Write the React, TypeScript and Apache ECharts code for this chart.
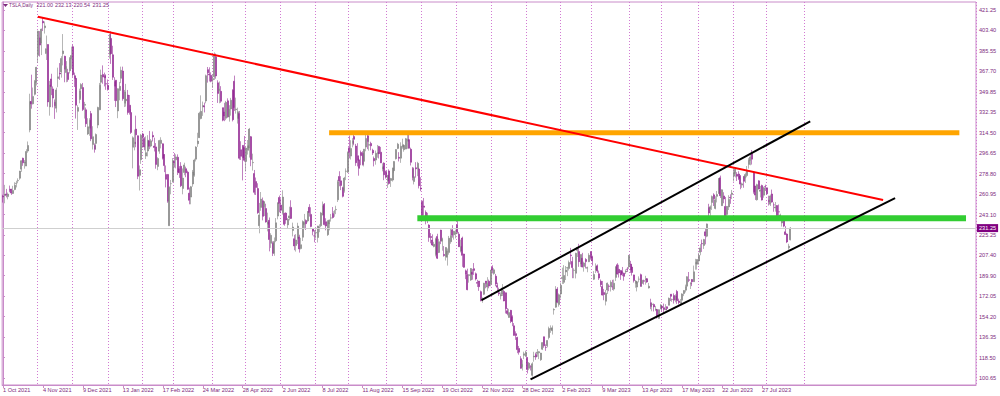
import React, { useEffect, useRef } from 'react';
import * as echarts from 'echarts';

// Daily candles, each row: [open, close, low, high]
const oct21 = [[259.0,258.4,253.5,260.3],[259.5,260.5,252.9,268.9],[261.0,260.2,258.0,265.4],[258.7,260.9,256.3,262.2],[264.6,264.5,262.5,268.3],[265.3,261.8,260.2,265.4],[261.4,264.0,260.9,268.1],[264.9,268.6,264.2,271.2],[270.0,270.4,266.7,272.5],[272.4,272.8,270.3,274.6],[274.7,281.0,273.3,281.1],[282.6,290.0,280.3,290.3],[292.1,288.1,285.5,292.6],[288.0,288.6,283.0,290.5],[285.3,298.0,285.3,300.0],[298.4,303.2,296.9,306.7],[316.8,341.6,314.7,348.3],[341.6,339.5,335.3,364.9],[339.5,346.0,339.0,353.7],[347.8,359.0,346.8,360.3],[358.3,371.3,355.5,371.7]];
const nov21 = [[381.7,402.9,375.3,403.2],[397.0,390.7,380.7,402.9],[392.4,404.6,382.0,405.1],[411.5,410.0,402.9,414.5],[405.8,407.4,400.7,411.3],[383.3,387.6,377.7,399.0],[391.2,341.2,337.0,391.4],[336.8,356.0,329.2,359.5],[361.2,354.5,347.1,365.7],[352.5,344.5,336.4,354.7],[340.9,337.8,326.4,343.3],[335.7,351.6,332.0,353.5],[361.6,363.0,354.0,371.0],[366.3,365.5,360.4,375.0],[367.3,379.0,362.3,381.0],[383.1,385.6,373.0,400.3],[381.0,369.7,358.3,381.4],[366.7,372.0,358.3,376.7],[366.7,360.6,358.7,370.0],[368.3,379.0,366.0,380.3],[378.7,381.6,370.0,389.3]];
const dec21 = [[389.3,365.0,363.0,390.9],[364.0,361.5,354.2,366.7],[361.7,338.3,326.7,361.7],[333.0,336.3,316.8,338.3],[343.3,350.6,340.0,352.7],[352.7,356.3,344.7,357.5],[353.7,334.6,333.3,357.7],[338.3,339.0,326.7,341.2],[334.3,322.1,319.3,336.3],[313.3,319.5,312.3,327.0],[318.3,325.3,311.7,327.0],[331.0,309.0,307.0,333.3],[304.0,310.9,299.7,320.0],[303.3,300.0,297.0,305.0],[305.0,312.8,299.7,313.7],[321.0,336.3,318.3,337.0],[334.3,355.7,334.0,357.7],[358.3,364.6,351.7,369.3],[365.0,362.8,357.0,373.0],[364.0,362.1,354.7,366.7],[357.0,356.8,351.7,365.2],[355.7,352.3,351.0,360.7]];
const jan22 = [[382.6,399.9,378.9,400.4],[396.5,383.2,374.3,402.7],[382.2,362.7,360.3,390.1],[359.0,354.9,342.1,362.7],[360.1,342.3,336.7,360.3],[333.3,352.7,327.0,353.0],[351.2,354.8,342.6,358.6],[361.7,368.7,357.5,371.9],[368.1,343.9,342.2,371.9],[340.0,349.9,336.7,351.6],[342.2,343.5,337.1,356.9],[347.2,331.9,330.0,351.6],[338.3,332.1,330.1,347.2],[331.9,314.6,313.3,334.8],[301.7,310.0,283.3,311.2],[304.7,306.1,299.0,317.1],[317.5,312.5,301.7,329.2],[311.7,276.4,273.9,311.9],[277.2,282.1,264.0,285.8],[290.9,312.2,287.2,313.3]];
const feb22 = [[313.3,310.4,301.3,314.3],[309.4,301.9,299.0,310.5],[294.0,297.0,291.4,311.2],[298.4,307.8,293.7,312.2],[307.3,302.5,300.0,315.9],[302.7,307.3,301.7,308.8],[312.0,310.7,306.7,315.4],[302.7,301.5,298.0,310.0],[302.0,286.7,283.0,305.3],[285.0,291.9,281.7,293.0],[298.3,307.5,296.0,308.1],[305.0,307.8,300.7,310.4],[304.7,292.1,291.0,305.0],[295.3,285.7,280.0,295.7],[278.0,273.8,266.7,285.8],[278.0,254.7,253.3,278.3],[233.3,266.9,233.3,267.5],[270.0,270.0,260.7,273.2],[271.7,290.1,271.0,292.3]];
const mar22 = [[289.3,288.1,284.0,296.6],[290.7,293.3,283.3,295.5],[293.0,279.8,277.5,295.5],[283.0,279.4,275.0,285.2],[285.2,268.2,267.0,288.7],[265.7,274.8,260.7,283.2],[279.7,286.3,277.3,288.2],[283.0,279.4,275.6,284.8],[280.0,265.1,264.7,281.3],[261.7,255.5,252.0,266.6],[258.3,267.3,252.0,268.0],[269.7,280.1,267.3,281.9],[277.3,290.5,276.0,291.7],[291.3,301.8,289.3,302.6],[304.7,307.1,302.0,314.3],[310.0,331.3,309.8,332.6],[326.7,333.0,326.0,346.9],[336.9,338.0,329.0,341.5],[337.7,336.9,332.0,340.6],[342.0,364.0,340.0,365.0],[369.3,366.5,358.0,371.6],[365.3,364.7,359.0,371.3],[364.3,359.2,358.3,367.0]];
const apr22 = [[360.4,361.5,353.3,364.9],[363.1,381.8,360.3,384.3],[380.5,363.8,361.4,383.3],[357.8,348.6,340.3,360.0],[350.8,352.4,340.0,359.0],[350.4,341.8,340.4,354.9],[336.2,325.3,324.3,336.2],[332.5,329.0,324.4,340.4],[327.0,340.8,325.3,342.1],[342.1,328.3,327.4,344.3],[328.0,334.8,324.0,338.3],[335.0,342.7,329.2,344.7],[351.3,325.7,324.2,352.2],[359.2,336.3,333.3,364.1],[334.3,335.0,331.0,344.9],[326.7,332.7,322.3,336.2],[331.0,292.1,290.8,333.3],[299.5,293.8,290.6,306.9],[303.3,292.5,272.8,303.5],[301.4,290.3,289.1,311.5]];
const may22 = [[289.3,301.0,280.6,302.1],[299.0,303.1,295.3,308.0],[301.1,317.5,292.7,318.5],[310.9,291.1,285.2,311.5],[288.2,288.5,281.4,296.1],[278.8,262.4,260.4,281.9],[271.8,266.7,260.1,275.3],[265.7,244.7,243.7,270.3],[233.3,242.7,226.7,253.2],[249.3,256.5,246.3,262.7],[255.0,241.5,238.0,257.9],[249.8,253.9,241.8,254.8],[248.3,236.6,236.0,252.5],[234.6,236.5,228.4,244.7],[238.0,221.3,211.0,240.5],[218.0,225.0,214.0,226.8],[218.1,209.4,206.9,219.7],[209.3,219.6,207.1,223.1],[220.3,235.9,219.0,240.0],[241.7,253.2,238.9,253.8],[257.9,252.8,245.0,259.6]];
const jun22 = [[251.3,246.8,244.3,257.3],[244.7,258.3,243.0,264.2],[244.2,234.5,233.3,244.5],[244.3,238.3,235.0,245.0],[234.0,238.9,231.0,239.9],[240.1,241.9,238.0,249.9],[249.3,239.7,239.3,255.5],[229.1,232.2,224.0,236.0],[222.0,215.7,212.0,225.4],[216.2,220.9,210.8,226.0],[222.3,233.0,217.3,235.9],[223.5,213.1,209.9,225.5],[213.4,216.8,212.7,222.8],[223.3,237.0,220.0,238.0],[234.3,236.1,230.4,243.6],[237.9,235.1,229.6,238.9],[237.5,245.7,236.3,246.1],[249.4,244.9,241.3,252.1],[243.2,232.7,232.0,249.4],[230.5,228.5,225.0,231.2],[224.5,224.5,218.9,229.5]];
const jul22 = [[227.0,227.3,222.1,230.2],[223.0,233.1,218.7,233.2],[230.8,231.7,227.7,234.6],[233.3,244.5,232.0,245.4],[242.7,250.8,242.3,254.4],[252.1,234.3,233.6,253.1],[236.8,233.1,229.3,239.8],[225.5,237.0,224.4,238.3],[234.9,238.3,229.3,238.7],[240.0,240.1,236.9,243.6],[244.0,240.5,239.6,249.6],[245.0,245.5,241.1,247.1],[247.2,247.5,243.4,250.7],[255.9,271.7,254.0,273.3],[276.2,272.2,267.7,280.8],[272.4,268.4,264.3,276.5],[266.5,258.9,258.0,267.3],[263.8,274.8,262.1,275.9],[280.7,280.9,273.0,283.3],[280.0,297.1,279.3,298.0]];
const aug22 = [[301.3,297.3,292.0,311.9],[294.0,300.6,291.0,307.8],[305.0,307.4,301.6,309.6],[311.0,308.6,303.4,313.6],[302.7,288.2,285.5,304.6],[294.3,290.4,285.0,305.2],[290.7,283.3,276.9,292.4],[297.1,294.4,286.0,298.8],[296.5,286.6,285.8,298.2],[289.4,300.0,285.0,300.2],[301.8,309.3,298.2,313.1],[311.7,306.6,300.0,314.7],[303.4,304.0,298.7,309.7],[305.0,302.9,299.0,306.5],[299.0,296.7,295.0,300.4],[291.9,289.9,285.0,293.6],[290.5,296.5,286.5,298.8],[296.1,297.1,292.6,303.7],[302.4,296.1,291.9,302.9],[297.4,288.1,287.9,302.0],[282.8,284.8,280.7,287.7],[287.9,277.7,273.0,288.5],[280.6,275.6,274.4,281.3]];
const sep22 = [[272.6,277.2,266.2,277.6],[281.1,270.2,269.1,282.4],[272.7,274.4,267.1,275.0],[273.1,283.7,271.8,283.8],[281.3,289.3,279.2,289.5],[291.7,299.7,291.0,299.9],[300.7,304.4,300.0,305.5],[292.9,292.1,289.3,297.4],[292.2,302.6,288.1,306.0],[301.8,303.8,300.4,309.1],[299.6,303.4,297.8,304.0],[300.1,309.1,300.0,309.8],[306.9,308.7,300.4,313.3],[308.3,300.8,300.6,313.8],[299.9,288.6,285.8,301.3],[283.1,275.3,272.8,284.5],[271.8,276.0,269.3,284.1],[283.8,282.9,275.2,288.7],[283.1,287.8,276.5,289.0],[282.8,268.2,265.8,283.7],[266.2,265.3,263.4,275.6]];
const oct22 = [[254.5,242.4,241.0,255.2],[250.5,249.4,242.1,257.5],[245.0,240.8,234.5,246.7],[239.4,238.1,235.6,244.6],[233.9,223.1,219.3,234.6],[223.9,223.0,218.0,226.9],[220.9,216.5,215.7,225.8],[215.3,217.2,214.5,219.3],[208.3,221.7,206.6,222.9],[224.0,205.0,204.3,226.3],[210.0,219.4,209.5,221.9],[229.5,220.2,217.3,229.8],[219.8,222.0,211.6,222.9],[208.3,207.3,206.4,215.6],[206.4,214.4,203.0,214.7],[205.8,211.3,198.6,213.5],[210.1,222.4,208.1,224.4],[219.4,224.6,217.6,230.6],[229.8,225.1,222.9,233.8],[225.4,228.5,221.2,228.9],[226.2,227.5,222.3,229.9]];
const nov22 = [[234.1,227.8,226.4,237.4],[226.0,215.0,214.8,227.9],[211.4,215.3,210.1,221.2],[222.6,207.5,197.5,223.8],[208.7,197.1,196.7,208.9],[194.0,191.3,186.8,195.2],[190.8,177.6,177.1,195.9],[189.9,190.7,183.7,191.0],[186.0,196.0,185.2,196.5],[192.8,191.0,186.3,195.7],[195.9,194.4,190.5,200.8],[191.5,186.9,185.6,192.6],[183.9,183.2,180.0,186.2],[185.1,180.2,176.6,185.2],[175.9,167.9,167.5,176.8],[168.6,169.9,166.2,170.9],[173.6,183.2,172.9,183.6],[185.1,182.9,178.8,185.2],[179.9,182.9,176.3,188.5],[185.0,180.8,178.8,186.4],[182.4,194.7,180.6,194.8]];
const dec22 = [[197.1,194.7,191.8,198.9],[191.8,194.9,190.6,196.3],[189.4,182.5,180.6,191.3],[181.2,179.8,175.3,183.7],[175.0,174.0,172.2,179.4],[172.2,173.4,169.1,175.2],[173.8,179.1,172.1,182.5],[176.1,167.8,167.5,177.4],[174.9,161.0,156.9,175.1],[159.3,156.8,155.3,161.6],[153.4,157.7,153.3,160.9],[159.6,150.2,148.5,160.0],[154.0,149.9,145.8,155.3],[146.1,137.8,137.7,148.5],[139.3,137.6,133.9,141.3],[136.0,125.4,122.3,136.6],[126.4,123.2,121.0,128.6],[117.5,109.1,108.8,119.7],[110.4,112.7,107.2,116.3],[120.4,121.8,117.1,123.6],[119.9,123.2,119.0,124.5]];
const jan23 = [[118.5,108.1,104.6,118.8],[109.1,113.6,107.5,114.6],[110.5,110.3,107.2,111.8],[103.0,113.1,101.8,114.4],[119.0,119.8,114.9,123.5],[121.1,118.9,116.5,122.8],[122.1,123.2,119.2,125.9],[122.6,123.6,117.1,124.1],[116.6,122.4,115.6,122.6],[125.7,131.5,125.0,131.7],[136.6,128.8,127.0,136.7],[127.3,127.2,124.3,130.0],[128.7,133.4,127.4,133.5],[135.9,143.8,134.3,145.4],[143.0,143.9,140.0,146.5],[141.9,144.4,138.5,146.4],[160.0,160.3,155.9,161.4],[162.4,177.9,161.9,180.7],[178.1,166.7,165.8,179.8],[164.6,173.2,162.8,174.3]];
const feb23 = [[173.9,181.4,169.9,183.8],[187.3,188.3,182.6,196.8],[184.0,190.0,182.6,199.0],[193.0,194.8,186.0,198.2],[196.4,196.8,189.4,197.5],[196.1,201.3,194.3,203.0],[207.8,207.3,199.6,214.0],[202.2,196.9,187.6,206.2],[194.4,194.6,187.6,196.3],[191.9,209.3,187.4,209.8],[211.8,214.2,206.1,214.7],[210.8,202.0,197.5,217.6],[200.0,208.3,197.5,208.4],[205.0,197.4,197.0,209.7],[197.9,200.9,193.3,202.0],[203.9,202.1,196.1,205.1],[196.3,196.9,192.8,197.7],[202.0,207.6,201.6,209.4],[210.6,205.7,203.8,211.2]];
const mar23 = [[206.2,202.8,198.6,207.2],[186.7,190.9,186.0,193.8],[194.8,197.8,192.1,200.5],[198.5,193.8,192.3,199.6],[191.4,187.7,186.1,194.2],[185.0,182.0,180.0,186.5],[180.3,172.9,172.5,185.2],[175.1,173.4,168.4,178.3],[167.5,174.5,163.9,177.4],[177.3,183.3,173.8,183.8],[180.8,180.5,176.3,182.3],[180.4,184.1,176.0,185.8],[180.1,180.1,177.3,186.2],[178.1,183.3,176.7,186.4],[188.3,197.6,185.2,198.0],[199.3,191.2,190.8,200.7],[195.3,192.2,188.2,199.3],[194.4,190.4,186.2,194.5],[193.4,191.8,189.4,197.4],[192.0,189.2,185.4,192.4],[193.1,193.9,191.3,195.3],[195.6,195.3,193.0,197.3],[197.5,207.5,195.6,207.8]];
const apr23 = [[199.9,194.8,192.2,202.7],[197.3,192.6,189.9,198.7],[190.5,185.5,183.8,190.7],[183.1,185.1,179.3,186.0],[179.9,184.5,176.1,185.1],[186.7,186.8,184.0,189.2],[190.7,180.5,180.2,191.6],[183.0,185.9,180.3,186.5],[185.4,185.0,182.0,186.3],[186.3,187.0,182.0,189.7],[187.2,184.3,183.6,187.7],[179.1,180.6,178.6,183.5],[166.2,163.0,160.6,169.7],[164.8,165.1,158.8,166.0],[164.7,162.6,158.6,165.6],[159.8,160.7,158.9,163.5],[160.3,153.8,152.4,160.7],[152.6,160.2,152.4,160.5],[160.9,164.3,160.6,165.0]];
const may23 = [[163.2,161.8,158.8,163.3],[161.9,160.3,157.3,165.5],[160.0,160.6,159.8,165.0],[162.7,161.2,159.7,163.0],[164.0,170.1,163.9,170.8],[173.7,171.8,167.7,173.8],[169.0,169.2,167.0,169.8],[172.6,168.5,165.5,174.4],[168.7,172.1,166.6,173.6],[176.1,168.0,165.2,177.4],[167.7,166.4,164.7,169.8],[165.7,166.5,164.4,169.5],[168.4,173.9,164.2,174.5],[174.2,176.9,172.0,177.1],[177.2,180.1,175.2,182.0],[180.7,188.9,179.8,189.3],[186.2,185.8,184.2,193.0],[182.6,182.9,178.2,184.2],[186.5,184.5,180.7,186.8],[184.6,193.2,184.5,198.6],[200.1,201.2,195.0,204.5],[199.8,203.9,195.1,204.0]];
const jun23 = [[202.6,207.5,199.4,209.8],[210.2,214.0,207.6,217.3],[217.8,217.6,210.5,221.3],[216.1,221.3,213.1,221.9],[228.0,224.6,217.1,230.8],[224.2,234.9,223.3,235.2],[249.1,244.4,239.6,252.4],[247.9,249.8,242.1,251.0],[253.5,258.7,247.1,259.7],[260.2,256.8,250.5,261.6],[248.4,255.9,247.6,259.0],[258.9,260.5,253.6,263.6],[261.5,274.5,261.1,274.8],[275.1,259.5,257.5,277.0],[250.8,264.6,250.7,265.0],[259.3,256.6,252.9,262.5],[250.1,241.1,240.7,258.4],[243.2,250.2,240.0,250.4],[249.7,256.2,247.0,259.9],[258.0,257.5,252.4,260.7],[260.6,261.8,256.6,264.5]];
const jul23 = [[276.5,279.8,271.8,284.3],[278.8,282.5,275.4,284.0],[278.1,276.5,272.3,280.0],[278.4,274.4,273.2,280.8],[276.5,269.6,265.1,277.5],[268.7,269.8,266.3,270.9],[276.3,272.0,266.4,276.5],[274.6,277.9,270.6,279.5],[277.0,281.4,275.5,285.3],[286.6,290.4,283.1,292.2],[290.2,293.3,286.0,295.3],[296.0,291.3,286.6,299.3],[279.6,262.9,261.2,280.9],[268.0,260.0,255.8,268.0],[255.9,269.1,255.2,269.9],[272.4,265.3,265.0,272.9],[263.3,264.4,258.0,268.0],[268.3,255.7,255.3,269.1],[259.9,266.4,257.7,267.3],[267.5,267.4,263.6,269.1]];
const aug23 = [[266.3,261.1,260.5,266.5],[255.6,254.1,250.9,259.5],[252.0,259.3,250.5,260.5],[261.0,253.9,253.4,264.8],[251.5,251.5,245.5,253.7],[248.8,249.7,245.6,254.0],[250.9,242.2,241.8,251.2],[245.4,245.3,241.1,251.8],[241.8,242.7,238.0,243.8],[235.7,239.8,232.6,240.7],[238.7,233.0,232.0,240.5],[228.0,225.6,225.4,233.0],[226.1,219.2,218.2,226.7],[214.1,215.5,212.4,217.6],[221.0,231.25,220.54,232.13]];

const candles = [...oct21, ...nov21, ...dec21, ...jan22, ...feb22, ...mar22, ...apr22, ...may22, ...jun22, ...jul22, ...aug22, ...sep22, ...oct22, ...nov22, ...dec22, ...jan23, ...feb23, ...mar23, ...apr23, ...may23, ...jun23, ...jul23, ...aug23];

const SYMBOL_TITLE = 'TSLA,Daily';
const LAST_OHLC = ['221.00', '232.13', '220.54', '231.25'];
const LAST_PRICE = 231.25;
const PRICE_TICKS = [100.65, 118.5, 136.35, 154.2, 172.05, 189.9, 207.4, 225.25, 243.1, 260.95, 278.8, 296.65, 314.5, 332.35, 349.85, 367.7, 385.55, 403.4, 421.25];
const PRICE_MIN = 94.57;
const PRICE_MAX = 428.22;

// calendar: first session, total slots (incl. empty future space), exchange holidays
const FIRST_DAY = '2021-10-01';
const TOTAL_SLOTS = 585;
const LABEL_EVERY = 24;
const LAST_GRID_INDEX = 482;
const HOLIDAYS = ['2021-11-25', '2021-12-24', '2022-01-17', '2022-02-21', '2022-04-15', '2022-05-30', '2022-06-20', '2022-07-04', '2022-09-05', '2022-11-24', '2022-12-26', '2023-01-02', '2023-01-16', '2023-02-20', '2023-04-07', '2023-05-29', '2023-06-19', '2023-07-04', '2023-09-04', '2023-11-23', '2023-12-25'];
const MONTHS = ['Jan', 'Feb', 'Mar', 'Apr', 'May', 'Jun', 'Jul', 'Aug', 'Sep', 'Oct', 'Nov', 'Dec'];

// drawn lines: [bar index, price] endpoints
const RED_TREND = [[20.9, 415.4], [528.7, 255.7]];
const CHANNEL_UPPER = [[287.5, 168.6], [484.9, 324.3]];
const CHANNEL_LOWER = [[316.9, 99.5], [535.9, 257.4]];
const RESISTANCE = [[195.9, 314.4], [574.5, 314.4]];
const SUPPORT = [[248.9, 239.8], [578.5, 239.8]];

function buildDays() {
  const out: { label: string; monthStart: boolean }[] = [];
  const hol = new Set(HOLIDAYS);
  const d = new Date(FIRST_DAY + 'T00:00:00Z');
  let prevMonth = -1;
  while (out.length < TOTAL_SLOTS) {
    const wd = d.getUTCDay();
    const iso = d.toISOString().slice(0, 10);
    if (wd !== 0 && wd !== 6 && !hol.has(iso)) {
      const m = d.getUTCMonth();
      out.push({ label: `${d.getUTCDate()} ${MONTHS[m]} ${d.getUTCFullYear()}`, monthStart: prevMonth !== -1 && m !== prevMonth });
      prevMonth = m;
    }
    d.setUTCDate(d.getUTCDate() + 1);
  }
  return out;
}

const AXIS_COLOR = '#c98cc9';
const TEXT_COLOR = '#7d2a7d';
const FONT = 'Liberation Sans, Arial, sans-serif';

export default function App() {
  const ref = useRef<HTMLDivElement>(null);
  useEffect(() => {
    document.body.style.margin = '0';
    if (!ref.current) return;
    const chart = echarts.init(ref.current, null, { renderer: 'svg' });
    const days = buildDays();
    const labelFn = (i: number) => i % LABEL_EVERY === 0 && i < candles.length;
    const gridFn = (i: number) => days[i] && days[i].monthStart && i <= LAST_GRID_INDEX;
    const lineSeries = (data: number[][], color: string, width: number) => ({
      type: 'line', xAxisIndex: 1, yAxisIndex: 0, data, symbol: 'none', silent: true, z: 5,
      lineStyle: { color, width }, animation: false,
    });
    chart.setOption({
      animation: false,
      grid: { left: 1, right: 24, top: 2, bottom: 11, show: true, borderColor: AXIS_COLOR, borderWidth: 1, backgroundColor: '#ffffff' },
      graphic: [
        { type: 'polygon', shape: { points: [[3, 4], [8, 4], [5.5, 7]] }, style: { fill: TEXT_COLOR }, z: 10 },
        { type: 'text', x: 9, y: 2.8, style: { text: SYMBOL_TITLE, fontSize: 4.8, fill: TEXT_COLOR, fontFamily: FONT }, z: 10 },
        ...LAST_OHLC.map((t, k) => ({ type: 'text', x: [36.5, 55, 73.5, 92.5][k], y: 2.5, style: { text: t, fontSize: 5.4, fill: TEXT_COLOR, fontFamily: FONT }, z: 10 })),
      ],
      xAxis: [
        {
          type: 'category', data: days.map(d => d.label), boundaryGap: true,
          axisLine: { show: true, lineStyle: { color: AXIS_COLOR } },
          axisTick: { show: true, interval: labelFn, alignWithLabel: true, length: 3, lineStyle: { color: AXIS_COLOR } },
          axisLabel: { interval: labelFn, align: 'left', fontSize: 5.6, color: TEXT_COLOR, margin: 2, fontFamily: FONT },
          splitLine: { show: true, interval: gridFn, lineStyle: { color: '#d27ad2', type: [1, 2], width: 1 } },
        },
        { type: 'value', min: -0.5, max: TOTAL_SLOTS - 0.5, show: false },
      ],
      yAxis: {
        type: 'value', position: 'right', min: PRICE_MIN, max: PRICE_MAX,
        axisLine: { show: true, lineStyle: { color: AXIS_COLOR } },
        axisTick: { show: true, length: 2, customValues: PRICE_TICKS, lineStyle: { color: AXIS_COLOR } },
        axisLabel: { customValues: PRICE_TICKS, formatter: (v: number) => v.toFixed(2), fontSize: 5.6, color: TEXT_COLOR, margin: 3, fontFamily: FONT },
        splitLine: { show: false },
      },
      series: [
        {
          type: 'candlestick', xAxisIndex: 0, yAxisIndex: 0, data: candles, barWidth: 1.5,
          itemStyle: { color: '#6f6f6f', color0: '#7e0a7e', borderColor: '#858585', borderColor0: '#962c96', borderWidth: 0.6 },
          markLine: {
            silent: true, symbol: ['none', 'none'], animation: false,
            lineStyle: { color: '#cfcfcf', type: 'solid', width: 1 },
            data: [{ yAxis: LAST_PRICE }],
            label: { position: 'end', formatter: LAST_PRICE.toFixed(2), backgroundColor: '#800080', color: '#ffffff', fontSize: 5.6, padding: [1, 2], distance: 1, fontFamily: FONT },
          },
        },
        lineSeries(RESISTANCE, '#ffa500', 5),
        lineSeries(SUPPORT, '#32cd32', 6),
        lineSeries(RED_TREND, '#ff0000', 2),
        lineSeries(CHANNEL_UPPER, '#000000', 2),
        lineSeries(CHANNEL_LOWER, '#000000', 2),
      ],
    });
    return () => chart.dispose();
  }, []);
  return <div ref={ref} style={{ width: 1000, height: 396 }} />;
}
